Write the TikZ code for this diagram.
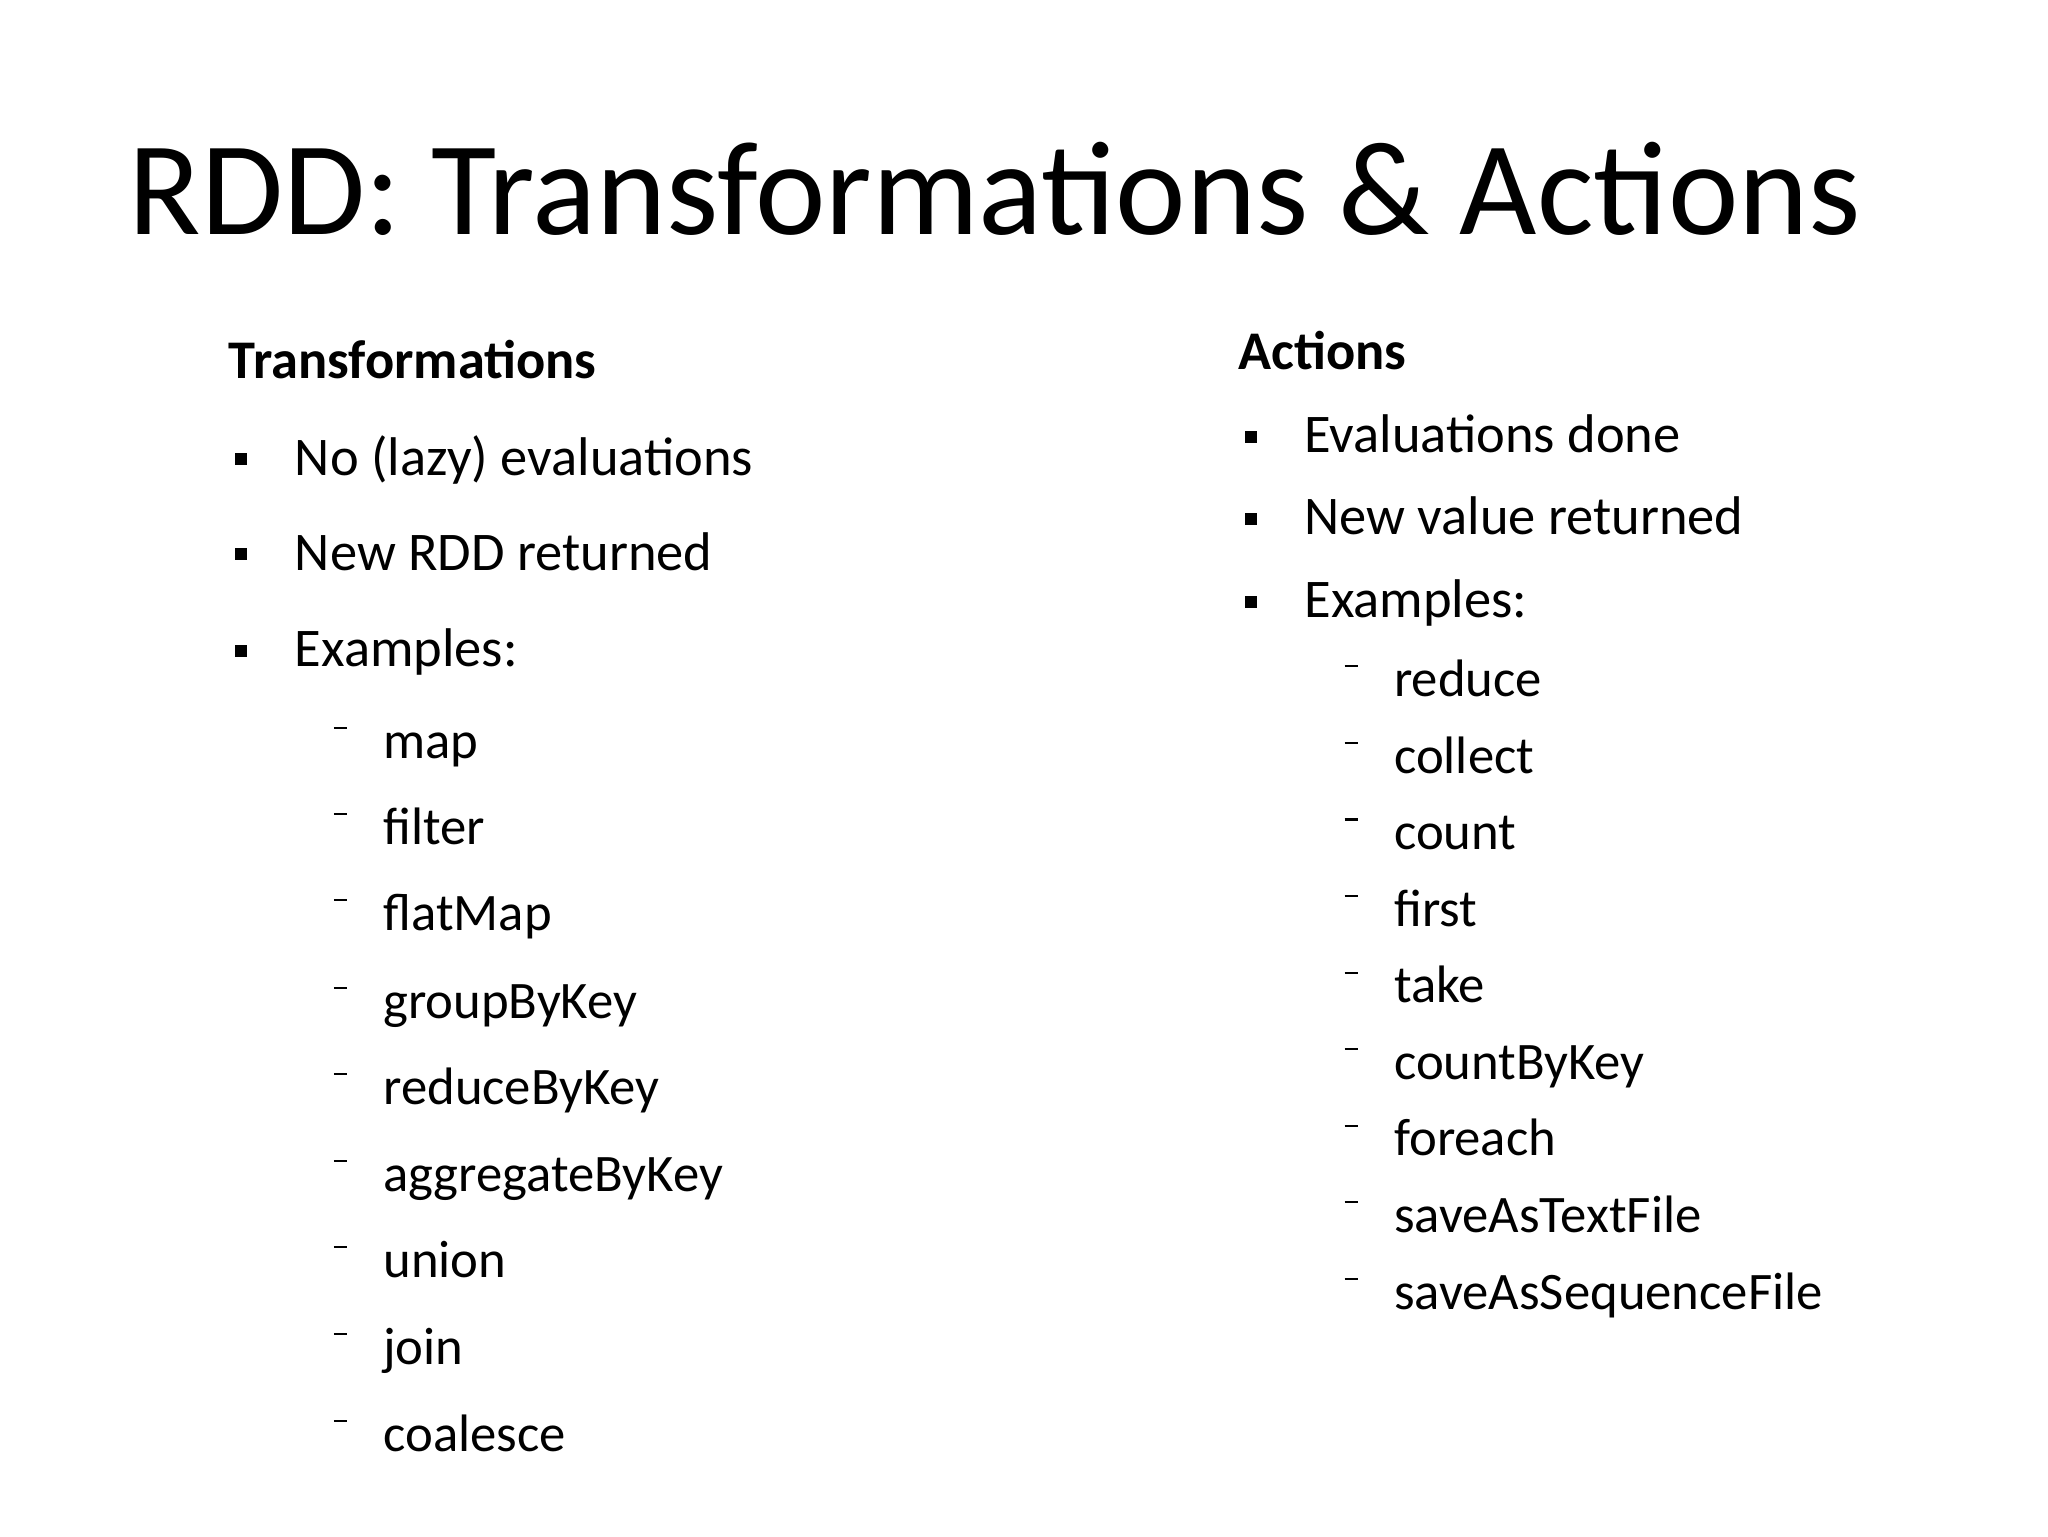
\documentclass[tikz,border=0pt]{standalone}
\usepackage{fontspec}
\setmainfont{Carlito}
\begin{document}
\begin{tikzpicture}[x=0.013196cm,y=-0.013196cm,
  txt/.style={anchor=base west,inner sep=0pt,font=\fontsize{15.5}{18}\selectfont},
  subtxt/.style={anchor=base west,inner sep=0pt,font=\fontsize{15}{18}\selectfont},
  head/.style={anchor=base west,inner sep=0pt,font=\fontsize{15.5}{18}\selectfont\bfseries},
  bul/.style={fill=black,minimum size=0.12cm,inner sep=0pt},
  dsh/.style={line width=0.6pt}]
\useasboundingbox (0,0) rectangle (1552,1164);
\node[anchor=base west,inner sep=0pt,font=\fontsize{38}{44}\selectfont] (title) at (97,178) {RDD: Transformations \& Actions};
\node[head] (th) at (173,287) {Transformations};
\foreach \t/\yy [count=\i] in {No (lazy) evaluations/360, New RDD returned/432, Examples:/505}{
  \node[bul] (tb\i) at (183,\yy-12) {};
  \node[txt] (tt\i) at (223,\yy) {\t};
}
\foreach \t/\yy [count=\i] in {map/575,filter/640,flatMap/705,groupByKey/772,reduceByKey/837,aggregateByKey/903,union/968,join/1034,coalesce/1100}{
  \coordinate (ta\i) at (253,\yy-23); \coordinate (tz\i) at (263,\yy-23);
  \draw[dsh] (ta\i) -- (tz\i);
  \node[subtxt] (ts\i) at (290,\yy) {\t};
}
\node[head] (ah) at (938,280) {Actions};
\foreach \t/\yy [count=\i] in {Evaluations done/343, New value returned/405, Examples:/468}{
  \node[bul] (ab\i) at (948,\yy-12) {};
  \node[txt] (at\i) at (988,\yy) {\t};
}
\foreach \t/\yy [count=\i] in {reduce/528,collect/586,count/644,first/702,take/760,countByKey/818,foreach/876,saveAsTextFile/934,saveAsSequenceFile/992}{
  \coordinate (aa\i) at (1019,\yy-23); \coordinate (az\i) at (1029,\yy-23);
  \draw[dsh] (aa\i) -- (az\i);
  \node[subtxt] (as\i) at (1056,\yy) {\t};
}
\end{tikzpicture}
\end{document}
